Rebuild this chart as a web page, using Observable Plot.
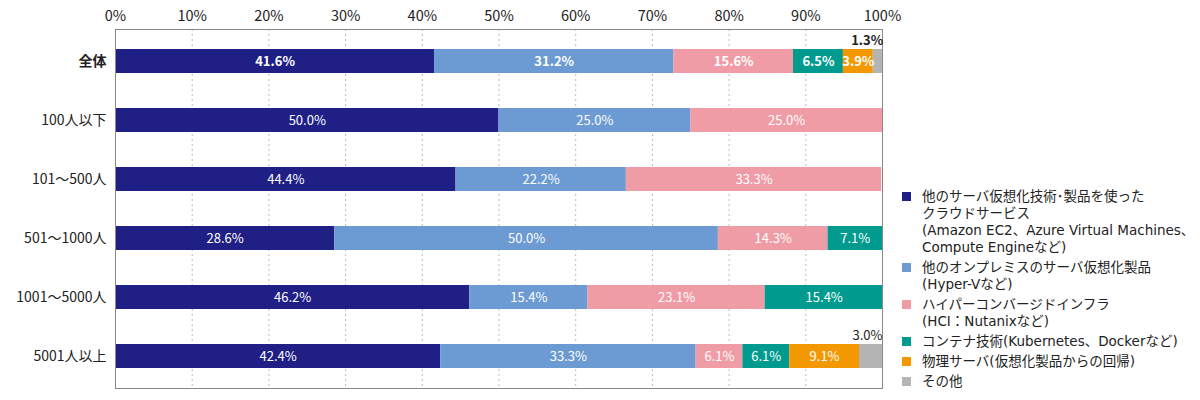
<!DOCTYPE html>
<html><head><meta charset="utf-8">
<script src="https://cdn.jsdelivr.net/npm/d3@7"></script>
<script src="https://cdn.jsdelivr.net/npm/@observablehq/plot@0.6"></script>
<style>
body{margin:0;background:#fff;font-family:"Noto Sans CJK JP","Noto Sans",sans-serif;}
#wrap{position:relative;width:1200px;height:400px;overflow:hidden;}
#legend{position:absolute;left:902px;top:188px;font-family:"DejaVu Sans","Noto Sans CJK JP",sans-serif;font-size:13.5px;color:#222;line-height:17px;white-space:nowrap;}
.item{display:flex;align-items:flex-start;margin-bottom:3px;}
.sw{width:9px;height:9px;margin-top:4px;margin-right:11px;flex:none;}
</style></head>
<body><div id="wrap"><div id="legend"></div></div>
<script>
const categories = ["全体","100人以下","101～500人","501～1000人","1001～5000人","5001人以上"];
const seriesNames = ["クラウドサービス","オンプレミス仮想化","HCI","コンテナ技術","物理サーバ","その他"];
const legendLabels = [
  "他のサーバ仮想化技術･製品を使った<br>クラウドサービス<br>(Amazon EC2、Azure Virtual Machines、<br>Compute Engineなど)",
  "他のオンプレミスのサーバ仮想化製品<br>(Hyper-Vなど)",
  "ハイパーコンバージドインフラ<br>(HCI：Nutanixなど)",
  "コンテナ技術(Kubernetes、Dockerなど)",
  "物理サーバ(仮想化製品からの回帰)",
  "その他"
];
const colors = ["#1f1f86","#6b9bd2","#f09ca6","#009a8f","#f39800","#b4b4b4"];
const cloud     = [41.6, 50.0, 44.4, 28.6, 46.2, 42.4];
const onprem    = [31.2, 25.0, 22.2, 50.0, 15.4, 33.3];
const hci       = [15.6, 25.0, 33.3, 14.3, 23.1, 6.1];
const container = [6.5, 0, 0, 7.1, 15.4, 6.1];
const physical  = [3.9, 0, 0, 0, 0, 9.1];
const other     = [1.3, 0, 0, 0, 0, 3.0];
const xTicks = [0,10,20,30,40,50,60,70,80,90,100];

const seriesValues = [cloud, onprem, hci, container, physical, other];
const data = [];
categories.forEach((c, i) => {
  seriesNames.forEach((s, j) => data.push({cat: c, series: s, value: seriesValues[j][i]}));
});
const fmt = v => v.toFixed(1) + "%";

const plot = Plot.plot({
  width: 1200, height: 400,
  marginLeft: 115, marginRight: 318, marginTop: 29, marginBottom: 12,
  style: {fontFamily: '"Noto Sans CJK JP","Noto Sans",sans-serif', fontSize: "13px", color: "#222"},
  x: {domain: [0, 100], axis: null},
  y: {domain: categories, paddingInner: 0.595, paddingOuter: 0.33, axis: null},
  color: {domain: seriesNames, range: colors},
  marks: [
    Plot.gridX(xTicks, {stroke: "#aaa", strokeOpacity: 1, strokeDasharray: "2,3", strokeWidth: 0.8}),
    Plot.barX(data, Plot.stackX({x: "value", y: "cat", fill: "series", order: null})),
    Plot.frame({stroke: "#888", strokeWidth: 1}),
    Plot.axisX(xTicks, {anchor: "top", label: null, tickSize: 0, tickPadding: 9, fontSize: 14.5, tickFormat: d => d + "%", color: "#222"}),
    Plot.axisY({anchor: "left", label: null, tickSize: 0, tickPadding: 9, fontSize: 14, color: "#222"}),
    Plot.text(data, Plot.stackX({x: "value", y: "cat", z: "series", order: null,
      text: d => (d.cat !== "全体" && d.series !== "その他" && d.value > 0) ? fmt(d.value) : "",
      fill: "white", fontSize: 13})),
    Plot.text(data, Plot.stackX({x: "value", y: "cat", z: "series", order: null,
      text: d => (d.cat === "全体" && d.series !== "その他" && d.value > 0) ? fmt(d.value) : "",
      fill: "white", fontSize: 13, fontWeight: "bold"})),
    Plot.text(data, Plot.stackX2({x: "value", y: "cat", z: "series", order: null,
      text: d => (d.cat !== "全体" && d.series === "その他" && d.value > 0) ? fmt(d.value) : "",
      fill: "#222", fontSize: 13, textAnchor: "end", dy: -21})),
    Plot.text(data, Plot.stackX2({x: "value", y: "cat", z: "series", order: null,
      text: d => (d.cat === "全体" && d.series === "その他" && d.value > 0) ? fmt(d.value) : "",
      fill: "#222", fontSize: 13, fontWeight: "bold", textAnchor: "end", dy: -21}))
  ]
});
d3.select(plot).selectAll('g[aria-label="y-axis tick label"] text')
  .filter(function(){ return this.textContent === "全体"; })
  .attr("font-weight", "bold");
document.getElementById("wrap").prepend(plot);

const leg = document.getElementById("legend");
legendLabels.forEach((l, i) => {
  const it = document.createElement("div");
  it.className = "item";
  it.innerHTML = `<div class="sw" style="background:${colors[i]}"></div><div>${l}</div>`;
  leg.appendChild(it);
});
</script></body></html>
